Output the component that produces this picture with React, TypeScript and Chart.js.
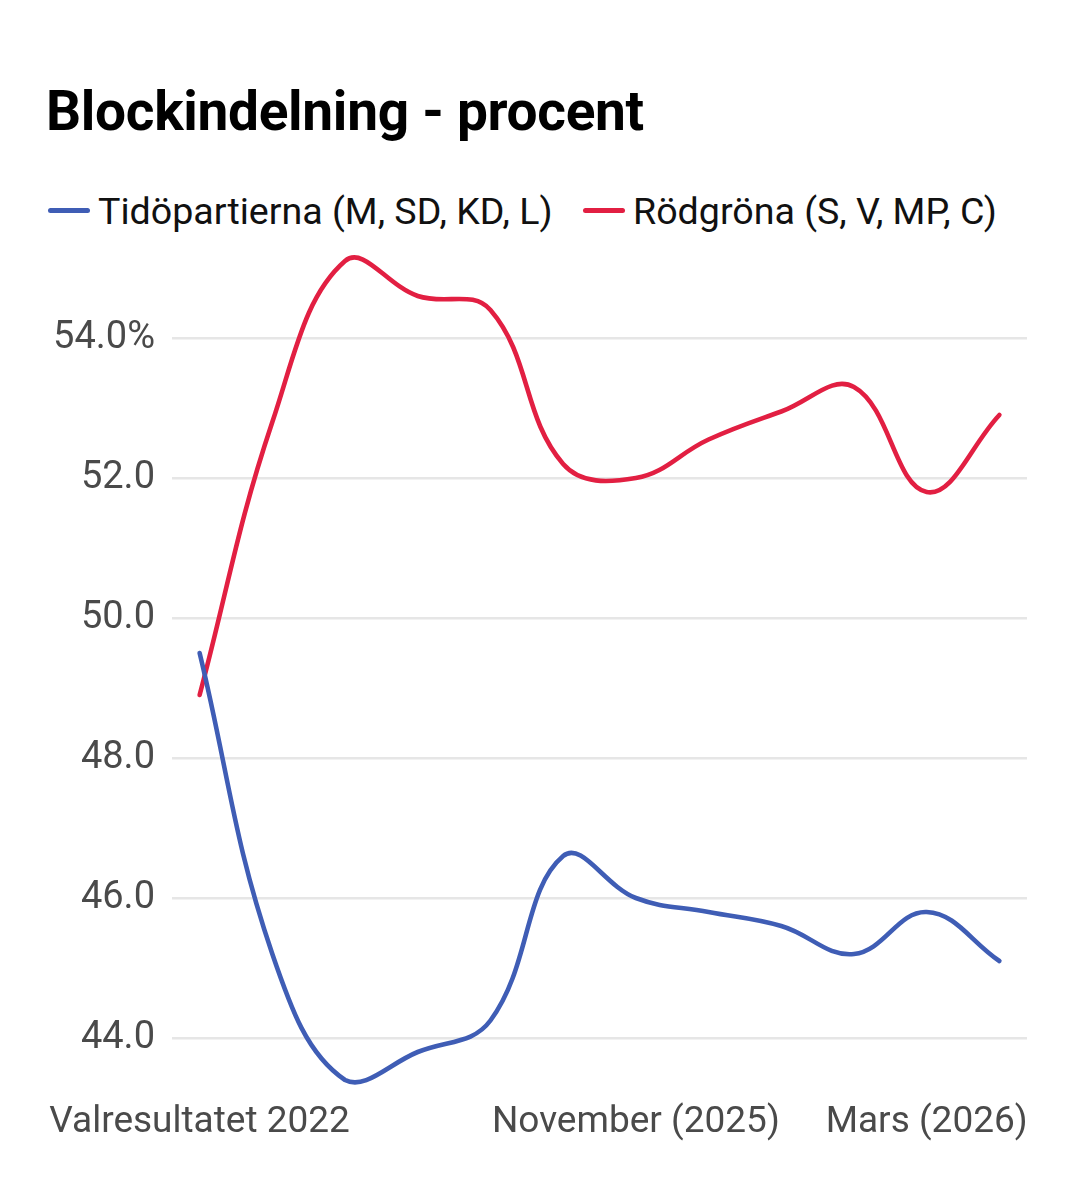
import React, { useEffect, useRef } from "react";
import { Chart, registerables } from "chart.js";

Chart.register(...registerables);

const categories = [
  "Valresultatet 2022", "", "", "", "", "",
  "November (2025)", "", "", "", "Mars (2026)", "",
];
const tidoValues = [49.5, 45.2, 43.4, 43.8, 44.25, 46.6, 46.0, 45.8, 45.6, 45.2, 45.8, 45.1];
const rodgronaValues = [48.9, 52.8, 55.1, 54.6, 54.4, 52.2, 52.0, 52.55, 52.95, 53.3, 51.8, 52.9];
const yTicks = [44, 46, 48, 50, 52, 54];
const seriesNames = ["Tidöpartierna (M, SD, KD, L)", "Rödgröna (S, V, MP, C)"];
const seriesColors = ["#3f5db5", "#e21f42"];

const FONT = "Roboto, 'Noto Sans', sans-serif";

export default function App() {
  const ref = useRef<HTMLCanvasElement | null>(null);

  useEffect(() => {
    if (!ref.current) return;
    const labeled = categories
      .map((c, i) => (c ? i : -1))
      .filter((i) => i >= 0);
    const chart = new Chart(ref.current, {
      type: "line",
      data: {
        datasets: [tidoValues, rodgronaValues].map((vals, k) => ({
          label: seriesNames[k],
          data: vals.map((y, i) => ({ x: i, y })),
          borderColor: seriesColors[k],
          backgroundColor: seriesColors[k],
          borderWidth: 4.6,
          pointRadius: 0,
          tension: 0.4,
          borderCapStyle: "round",
          borderJoinStyle: "round",
          fill: false,
        })),
      },
      options: {
        responsive: false,
        animation: false,
        layout: { padding: { top: 0, right: 11, left: 0, bottom: 0 } },
        plugins: {
          legend: { display: false },
          title: { display: false },
          tooltip: { enabled: false },
        },
        scales: {
          x: {
            type: "linear",
            min: -0.38,
            max: 11.38,
            grid: { display: false, drawTicks: false },
            border: { display: false },
            afterBuildTicks: (scale: any) => {
              scale.ticks = labeled.map((v) => ({ value: v }));
            },
            afterFit: (scale: any) => {
              scale.height = 69.5;
              scale.paddingLeft = 0;
              scale.paddingRight = 0;
              scale.paddingTop = 0;
              scale.paddingBottom = 0;
            },
            ticks: {
              autoSkip: false,
              maxRotation: 0,
              minRotation: 0,
              padding: 10,
              color: "#4a4a4a",
              font: { family: FONT, size: 37 },
              callback: (v: any) => categories[Math.round(Number(v))] ?? "",
            },
          },
          y: {
            type: "linear",
            min: 43.25,
            max: 55.5,
            grid: { color: "#e6e6e6", lineWidth: 2.5, drawTicks: false },
            border: { display: false },
            afterBuildTicks: (scale: any) => {
              scale.ticks = yTicks.map((v) => ({ value: v }));
            },
            afterFit: (scale: any) => {
              scale.width = 124;
              scale.paddingLeft = 0;
              scale.paddingRight = 0;
              scale.paddingTop = 0;
              scale.paddingBottom = 0;
            },
            ticks: {
              padding: 17,
              color: "#4a4a4a",
              font: { family: FONT, size: 38 },
              callback: (v: any) =>
                Number(v) === 54 ? "54.0%" : Number(v).toFixed(1),
            },
          },
        },
      },
    } as any);
    return () => chart.destroy();
  }, []);

  return (
    <div style={{ position: "relative", width: 1059, height: 1184, fontFamily: FONT }}>
      <div
        style={{
          position: "absolute",
          left: 38,
          top: 76,
          fontSize: 55,
          lineHeight: "55px",
          fontWeight: 700,
          color: "#000",
          whiteSpace: "nowrap",
          letterSpacing: -0.3,
        }}
      >
        Blockindelning - procent
      </div>
      {seriesNames.map((name, k) => (
        <div
          key={name}
          style={{
            position: "absolute",
            left: k === 0 ? 40 : 575,
            top: 185,
            display: "flex",
            alignItems: "center",
            fontSize: 37.6,
            lineHeight: "37px",
            color: "#111",
            whiteSpace: "nowrap",
          }}
        >
          <span
            style={{
              display: "inline-block",
              width: 42,
              height: 5,
              borderRadius: 3,
              background: seriesColors[k],
              marginRight: 8,
              position: "relative",
              top: -1,
            }}
          />
          <span>{name}</span>
        </div>
      ))}
      <canvas
        ref={ref}
        width={990}
        height={927}
        style={{ position: "absolute", left: 40, top: 225, width: 990, height: 927 }}
      />
    </div>
  );
}
